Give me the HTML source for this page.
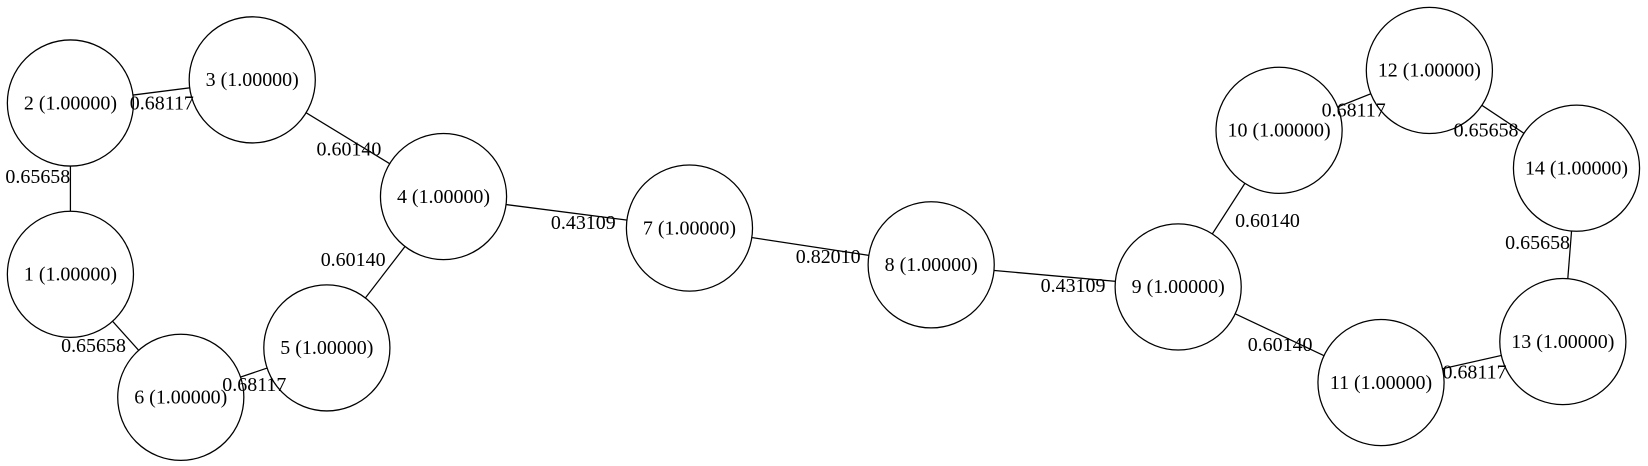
<!DOCTYPE html>
<html><head><meta charset="utf-8"><style>
html,body{margin:0;padding:0;background:#fff;}
svg{display:block;}
text{font-family:"Liberation Serif",serif;font-size:19px;fill:#000;}
</style></head>
<body>
<svg id="graph" width="1648" height="466" viewBox="0 0 1648 466" xmlns="http://www.w3.org/2000/svg">
<g transform="scale(1.051)">
<g id="edges"></g>
<g id="nodes"></g>
<g id="elabels"></g>
</g>
</svg>
<script>
const nodeIds = [1,2,3,4,5,6,7,8,9,10,11,12,13,14];
const nodeValues = ["1.00000","1.00000","1.00000","1.00000","1.00000","1.00000","1.00000","1.00000","1.00000","1.00000","1.00000","1.00000","1.00000","1.00000"];
const nodeX = [67,67,240,422,311,172,656,886,1121,1217,1314,1360,1487,1500];
const nodeY = [261,98,76,187,331,378,217,252,273,124,364,67,325,160];
const edgeFrom = [2,2,3,4,4,1,6,7,8,9,9,10,12,14,11];
const edgeTo   = [1,3,4,7,5,6,5,8,9,10,11,12,14,13,13];
const edgeWeights = ["0.65658","0.68117","0.60140","0.43109","0.60140","0.65658","0.68117","0.82010","0.43109","0.60140","0.60140","0.68117","0.65658","0.65658","0.68117"];
const labelX = [36,154,332,555,336,89,242,788,1021,1206,1218,1288,1414,1463,1403];
const labelY = [168,98,142,212,247,329,366,244,272,210,328,105,124,231,354];
const R = 60;
const NS = "http://www.w3.org/2000/svg";
const gE = document.getElementById('edges'), gL = document.getElementById('elabels'), gN = document.getElementById('nodes');
function idx(id){return nodeIds.indexOf(id);}
edgeFrom.forEach((f,i)=>{
  const a=idx(f), b=idx(edgeTo[i]);
  const l=document.createElementNS(NS,'line');
  
  
  l.setAttribute('x1',nodeX[a]);l.setAttribute('y1',nodeY[a]);
  l.setAttribute('x2',nodeX[b]);l.setAttribute('y2',nodeY[b]);
  l.setAttribute('stroke','#000');l.setAttribute('stroke-width','1.2');
  gE.appendChild(l);
  const t=document.createElementNS(NS,'text');
  
  
  t.setAttribute('x',labelX[i]);t.setAttribute('y',labelY[i]+6);
  t.setAttribute('text-anchor','middle');
  t.textContent=edgeWeights[i];
  gL.appendChild(t);
});
nodeIds.forEach((id,i)=>{
  const g=document.createElementNS(NS,'g');
  
  
  const c=document.createElementNS(NS,'circle');
  
  
  c.setAttribute('cx',nodeX[i]);c.setAttribute('cy',nodeY[i]);c.setAttribute('r',R);
  c.setAttribute('fill','#fff');c.setAttribute('stroke','#000');c.setAttribute('stroke-width','1.2');
  g.appendChild(c);
  const t=document.createElementNS(NS,'text');
  
  
  t.setAttribute('x',nodeX[i]);t.setAttribute('y',nodeY[i]+6);
  t.setAttribute('text-anchor','middle');
  t.textContent=id+' ('+nodeValues[i]+')';
  g.appendChild(t);
  gN.appendChild(g);
});
</script>
</body></html>
